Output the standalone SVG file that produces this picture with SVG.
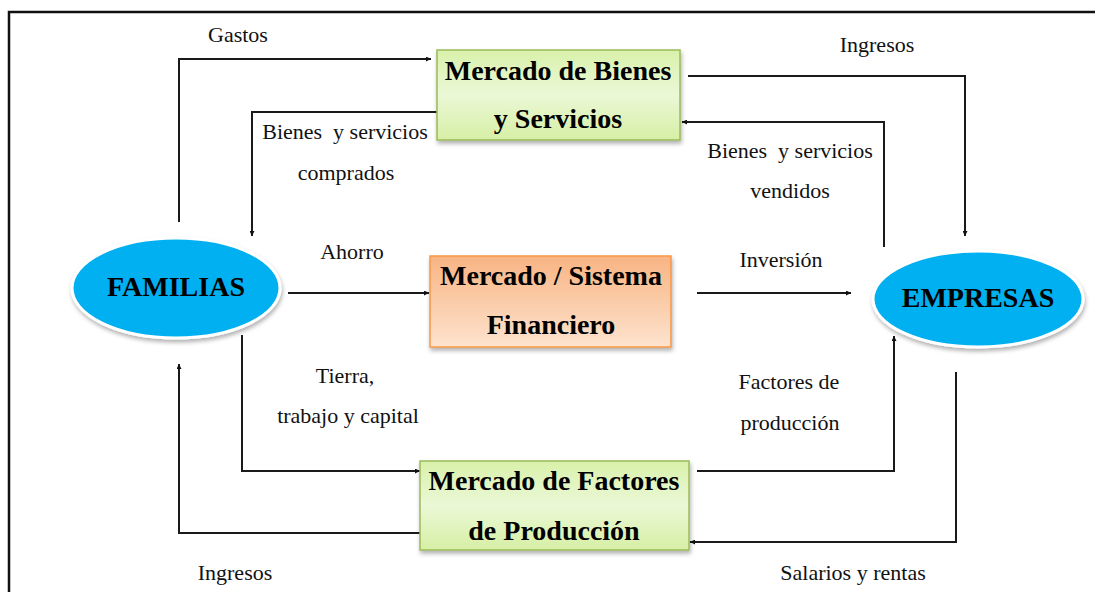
<svg xmlns="http://www.w3.org/2000/svg" width="1095" height="592" viewBox="0 0 1095 592">
<style>
.lbl{font-family:"Liberation Serif","Times New Roman",serif;font-size:22px;fill:#111;text-anchor:middle}
.box{font-family:"Liberation Serif","Times New Roman",serif;font-size:28px;font-weight:bold;fill:#000;text-anchor:middle}
.con{fill:none;stroke:#1a1a1a;stroke-width:2}
</style>
<defs>
<marker id="ah" viewBox="0 0 10 10" refX="10" refY="5" markerWidth="5" markerHeight="5" orient="auto" markerUnits="userSpaceOnUse">
<path d="M0,0 L10,5 L0,10 z" fill="#111"/>
</marker>
<linearGradient id="gGreen" x1="0" y1="0" x2="0" y2="1">
<stop offset="0" stop-color="#d9f1ab"/>
<stop offset="0.5" stop-color="#ebf8d6"/>
<stop offset="1" stop-color="#d6efa5"/>
</linearGradient>
<linearGradient id="gOrange" x1="0" y1="0" x2="0" y2="1">
<stop offset="0" stop-color="#f8b483"/>
<stop offset="1" stop-color="#fde3ce"/>
</linearGradient>
<filter id="sh" x="-10%" y="-10%" width="120%" height="130%">
<feDropShadow dx="1" dy="3" stdDeviation="2" flood-color="#000" flood-opacity="0.3"/>
</filter>
</defs>
<rect x="0" y="0" width="1095" height="592" fill="#fff"/>
<path d="M9,592 V12 H1095" fill="none" stroke="#111" stroke-width="2.5"/>

<g id="connectors">
<path class="con" d="M179,222 V59 H431" marker-end="url(#ah)"/>
<path class="con" d="M437,112 H252 V236" marker-end="url(#ah)"/>
<path class="con" d="M688,76 H965 V236" marker-end="url(#ah)"/>
<path class="con" d="M884,247 V122 H682" marker-end="url(#ah)"/>
<path class="con" d="M288,293 H429" marker-end="url(#ah)"/>
<path class="con" d="M697,293 H851" marker-end="url(#ah)"/>
<path class="con" d="M242,335 V471 H420" marker-end="url(#ah)"/>
<path class="con" d="M697,471 H894 V336" marker-end="url(#ah)"/>
<path class="con" d="M956,372 V542 H690" marker-end="url(#ah)"/>
<path class="con" d="M420,533 H179 V364" marker-end="url(#ah)"/>
</g>

<g id="labels">
<text class="lbl" x="238" y="42">Gastos</text>
<text class="lbl" x="877" y="52">Ingresos</text>
<text class="lbl" x="345" y="139" xml:space="preserve">Bienes  y servicios</text>
<text class="lbl" x="346" y="180">comprados</text>
<text class="lbl" x="790" y="158" xml:space="preserve">Bienes  y servicios</text>
<text class="lbl" x="790" y="198">vendidos</text>
<text class="lbl" x="352" y="259">Ahorro</text>
<text class="lbl" x="781" y="267">Inversión</text>
<text class="lbl" x="345" y="383">Tierra,</text>
<text class="lbl" x="348" y="423">trabajo y capital</text>
<text class="lbl" x="789" y="389">Factores de</text>
<text class="lbl" x="790" y="430">producción</text>
<text class="lbl" x="235" y="580">Ingresos</text>
<text class="lbl" x="853" y="580">Salarios y rentas</text>
</g>

<g id="bienes">
<rect x="437" y="50" width="243" height="90" fill="url(#gGreen)" stroke="#9bbb59" stroke-width="1.5" filter="url(#sh)"/>
<text class="box" x="558" y="80">Mercado de Bienes</text>
<text class="box" x="558" y="128">y Servicios</text>
</g>

<g id="financiero">
<rect x="430" y="256" width="241" height="91" fill="url(#gOrange)" stroke="#f79646" stroke-width="1.5" filter="url(#sh)"/>
<text class="box" x="551" y="285">Mercado / Sistema</text>
<text class="box" x="551" y="334">Financiero</text>
</g>

<g id="factores">
<rect x="420" y="461" width="269" height="89" fill="url(#gGreen)" stroke="#9bbb59" stroke-width="1.5" filter="url(#sh)"/>
<text class="box" x="554" y="490">Mercado de Factores</text>
<text class="box" x="554" y="540">de Producción</text>
</g>

<g id="familias">
<ellipse cx="176" cy="288" rx="104" ry="50" fill="#00b0f0" stroke="#fff" stroke-width="3" filter="url(#sh)"/>
<text class="box" x="176" y="296">FAMILIAS</text>
</g>

<g id="empresas">
<ellipse cx="978" cy="299" rx="105" ry="48" fill="#00b0f0" stroke="#fff" stroke-width="3" filter="url(#sh)"/>
<text class="box" x="978" y="307">EMPRESAS</text>
</g>
</svg>
